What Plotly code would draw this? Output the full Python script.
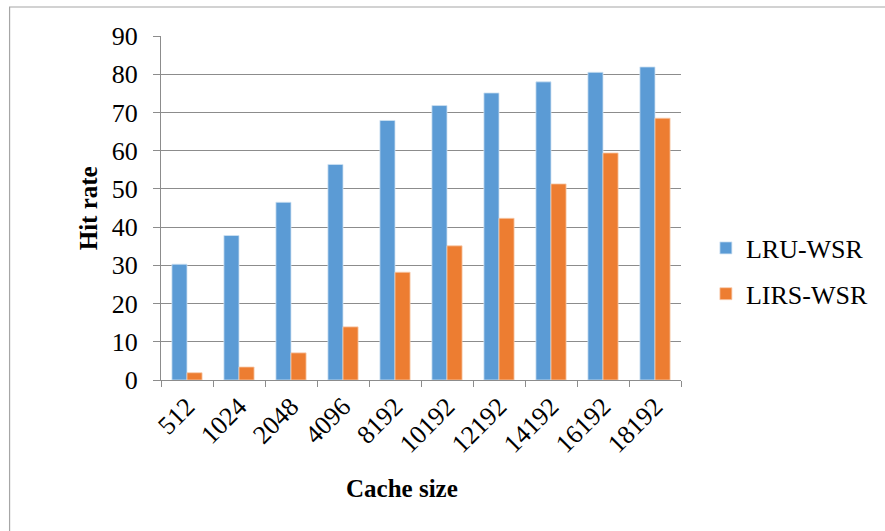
import plotly.graph_objects as go

# Cache sizes and hit rates for the two replacement policies
cache_sizes = ["512", "1024", "2048", "4096", "8192", "10192", "12192", "14192", "16192", "18192"]
lru_wsr = [30.3, 37.8, 46.5, 56.4, 67.9, 71.8, 75.1, 78.0, 80.5, 81.9]
lirs_wsr = [1.9, 3.4, 7.1, 13.9, 28.2, 35.1, 42.3, 51.3, 59.4, 68.5]
y_ticks = [0, 10, 20, 30, 40, 50, 60, 70, 80, 90]

FONT = "Liberation Serif"
GRID = "#8c8c8c"

fig = go.Figure()
fig.add_trace(go.Bar(
    x=cache_sizes, y=lru_wsr, name="LRU-WSR", legendgroup="a",
    marker=dict(color="#5B9BD5", line=dict(color="#cfe2f3", width=0.8)),
))
fig.add_trace(go.Bar(
    x=cache_sizes, y=lirs_wsr, name="LIRS-WSR", legendgroup="b",
    marker=dict(color="#ED7D31", line=dict(color="#f8cbad", width=0.8)),
))

fig.update_layout(
    template="none",
    width=885, height=531,
    margin=dict(l=161, r=202, t=36, b=151, pad=0),
    paper_bgcolor="white", plot_bgcolor="white",
    barmode="group", bargap=0.42, bargroupgap=0,
    font=dict(family=FONT, size=26, color="black"),
    legend=dict(
        x=(708 - 161) / 522, y=(380 - 271) / 344, xanchor="left", yanchor="middle",
        font=dict(family=FONT, size=26, color="black"),
        tracegroupgap=9, itemwidth=30,
    ),
    xaxis=dict(
        type="category", tickangle=-45, tickson="boundaries",
        ticks="outside", ticklen=6, tickcolor=GRID,
        showline=True, linecolor=GRID, linewidth=1,
        showgrid=False, tickfont=dict(family=FONT, size=26, color="black"),
    ),
    yaxis=dict(
        range=[0, 90], tickvals=y_ticks, ticks="outside", ticklen=7,
        tickcolor=GRID, showline=True, linecolor=GRID, linewidth=1,
        showgrid=True, gridcolor=GRID, gridwidth=1, zeroline=False,
        ticklabelstandoff=10, tickfont=dict(family=FONT, size=26, color="black"),
    ),
    annotations=[
        dict(text="<b>Hit rate</b>", xref="paper", yref="paper",
             x=(88 - 161) / 522, y=0.5, textangle=-90, showarrow=False,
             xanchor="center", yanchor="middle",
             font=dict(family=FONT, size=25, color="black")),
        dict(text="<b>Cache size</b>", xref="paper", yref="paper",
             x=(403 - 161) / 522, y=(380 - 488) / 344, showarrow=False,
             xanchor="center", yanchor="middle",
             font=dict(family=FONT, size=25, color="black")),
    ],
    shapes=[
        dict(type="rect", xref="paper", yref="paper",
             x0=(9 - 161) / 522, x1=(895 - 161) / 522,
             y0=(380 - 545) / 344, y1=(380 - 7) / 344,
             line=dict(color="#a6a6a6", width=1.2), layer="below"),
    ],
)

fig.write_html("out.html")
